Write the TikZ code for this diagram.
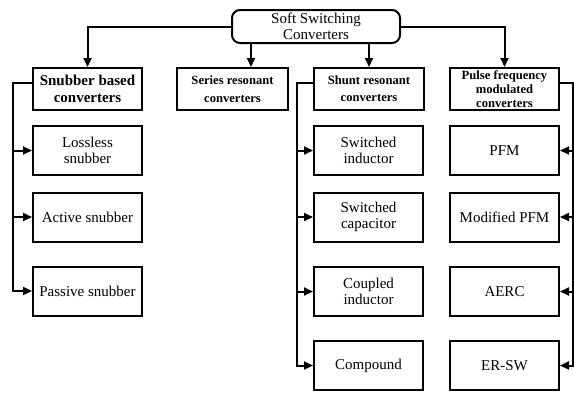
\documentclass[tikz,border=0pt]{standalone}
\usepackage{fontspec}
\setmainfont{Liberation Serif}
\usetikzlibrary{arrows.meta}
\tikzstyle{box}=[draw, rectangle, minimum width=109pt, minimum height=49pt, inner sep=0pt, align=center, font=\rmfamily\fontsize{15}{16.5}\selectfont]
\tikzstyle{head}=[box, minimum height=42pt, font=\rmfamily\fontsize{12.6}{18}\selectfont\bfseries]
\tikzstyle{arr}=[-{Triangle[length=9pt,width=8pt]}]

\begin{document}
\begin{tikzpicture}[x=1pt, y=-1pt, line width=2pt]
\useasboundingbox (0,0) rectangle (574,392);
% Root
    \node[draw, rounded corners=8pt, minimum width=168pt, minimum height=33pt, inner sep=0pt, align=center, font=\rmfamily\fontsize{15}{16}\selectfont] (root) at (316,26.5) {Soft Switching\\Converters};
% Main groups
    \node[head, font=\rmfamily\fontsize{15}{17}\selectfont\bfseries] (snub) at (87.5,89) {Snubber based\\converters};
    \node[head, minimum width=111pt] (series) at (232.5,89) {Series resonant\\converters};
    \node[head, minimum width=110pt, font=\rmfamily\fontsize{12.6}{17}\selectfont\bfseries] (shunt) at (369,89) {Shunt resonant\\converters};
    \node[head, font=\rmfamily\fontsize{12.6}{14}\selectfont\bfseries] (pulse) at (504.5,89) {Pulse frequency\\modulated\\converters};
% Snubber based
    \node[box] (lossless) at (87.5,150.5) {Lossless\\snubber};
    \node[box] (active) at (87.5,217) {Active snubber};
    \node[box] (passive) at (87.5,291) {Passive snubber};
% Shunt resonant
    \node[box] (swind) at (368.5,150.5) {Switched\\inductor};
    \node[box] (swcap) at (368.5,217) {Switched\\capacitor};
    \node[box] (coupled) at (368.5,291.5) {Coupled\\inductor};
    \node[box] (compound) at (368.5,365.5) {Compound};
% Pulse frequency modulated
    \node[box] (pfm) at (504.5,150.5) {PFM};
    \node[box] (mpfm) at (504.5,217) {Modified PFM};
    \node[box] (aerc) at (504.5,291.5) {AERC};
    \node[box] (ersw) at (504.5,365.5) {ER-SW};
% Root to groups
    \draw[arr] (root.west) -| (snub.north);
    \draw[arr] ([xshift=-65pt]root.south) -- ([xshift=18.5pt]series.north);
    \draw[arr] (root.south -| shunt.north) -- (shunt.north);
    \draw[arr] (root.east) -| (pulse.north);
% Buses
    \coordinate (sbus) at (13,83);
    \coordinate (hbus) at (297,83);
    \coordinate (pbus) at (572.5,83);
    \draw[arr] ([yshift=6pt]snub.west) -- (sbus) |- (passive.west);
    \draw[arr] (sbus |- lossless.west) -- (lossless.west);
    \draw[arr] (sbus |- active.west) -- (active.west);
    \draw[arr] ([yshift=6pt]shunt.west) -- (hbus) |- (compound.west);
    \draw[arr] (hbus |- swind.west) -- (swind.west);
    \draw[arr] (hbus |- swcap.west) -- (swcap.west);
    \draw[arr] (hbus |- coupled.west) -- (coupled.west);
    \draw[arr] ([yshift=6pt]pulse.east) -- (pbus) |- (ersw.east);
    \draw[arr] (pbus |- pfm.east) -- (pfm.east);
    \draw[arr] (pbus |- mpfm.east) -- (mpfm.east);
    \draw[arr] (pbus |- aerc.east) -- (aerc.east);
\end{tikzpicture}
\end{document}
